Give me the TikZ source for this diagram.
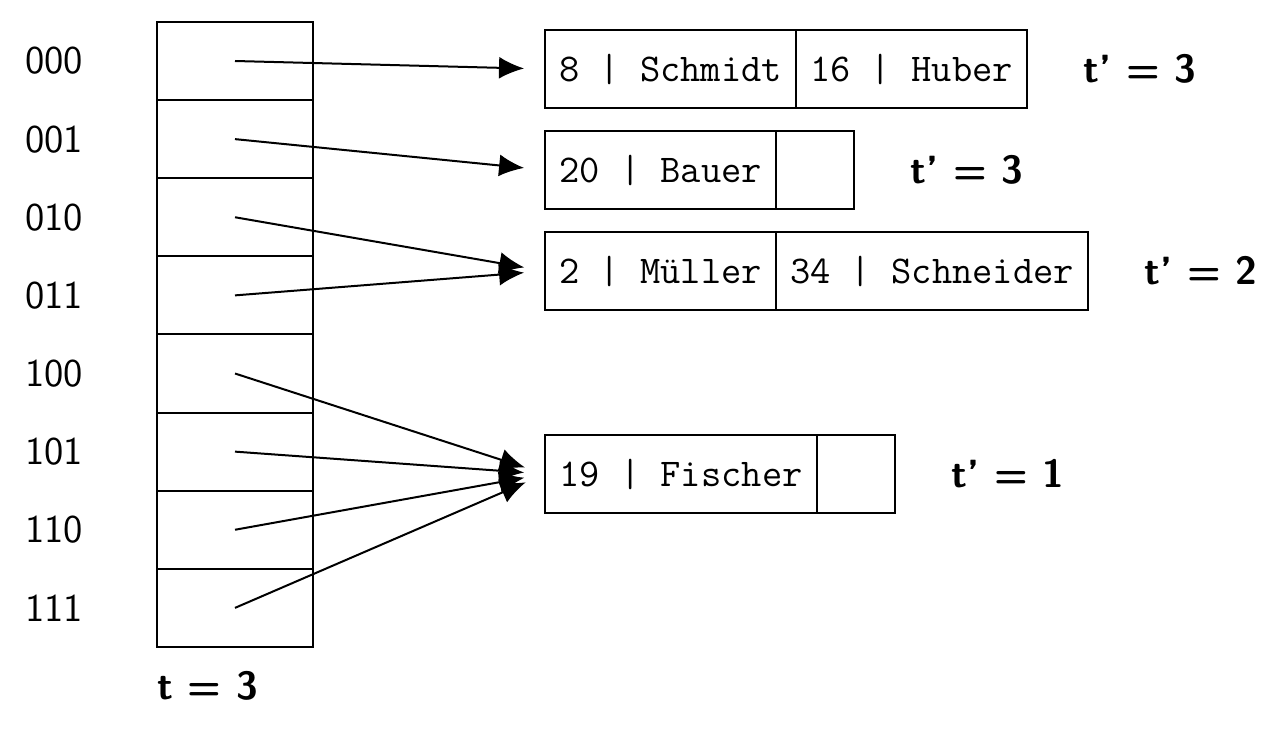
\documentclass[tikz,border=0pt]{standalone}
\usepackage{fontspec}
\usetikzlibrary{arrows.meta}
\tikzset{
  dircell/.style={draw, line width=0.6pt, minimum width={156*0.3pt}, minimum height={78.125*0.3pt}, inner sep=0pt, outer sep=0pt},
  bcell/.style={draw, line width=0.6pt, minimum height={78*0.3pt}, inner sep=0pt, outer sep=0pt, anchor=west, font=\ttfamily\fontsize{11.8}{13}\selectfont},
  idx/.style={font=\sffamily\fontsize{11.8}{13}\selectfont, inner sep=0pt},
  depth/.style={font=\sffamily\bfseries\fontsize{11.8}{14}\selectfont, inner sep=0pt, anchor=west},
  ptr/.style={line width=0.6pt, -{Latex[length=7.5pt,width=6.6pt]}, shorten >={21*0.3pt}}
}
\begin{document}
\begin{tikzpicture}[x=0.3pt,y=-0.3pt]
\useasboundingbox (0,0) rectangle (1284,733);
% directory
\foreach \i/\lab in {0/000,1/001,2/010,3/011,4/100,5/101,6/110,7/111}{
  \node[dircell] (d\i) at (235,{61+78.125*\i}) {};
  \node[idx] (l\i) at (54,{61+78.125*\i}) {\lab};
}
\node[depth] (t) at (157,686) {t = 3};
% buckets
\node[bcell, minimum width={251*0.3pt}] (b1a) at (545,69) {8 | Schmidt};
\node[bcell, minimum width={231*0.3pt}] (b1b) at (b1a.east) {16 | Huber};
\node[depth] (t1) at ([xshift={56*0.3pt}]b1b.east) {t' = 3};

\node[bcell, minimum width={231*0.3pt}] (b2a) at (545,170) {20 | Bauer};
\node[bcell, minimum width={78*0.3pt}] (b2b) at (b2a.east) {};
\node[depth] (t2) at ([xshift={56*0.3pt}]b2b.east) {t' = 3};

\node[bcell, minimum width={231*0.3pt}] (b3a) at (545,271) {2 | Müller};
\node[bcell, minimum width={312*0.3pt}] (b3b) at (b3a.east) {34 | Schneider};
\node[depth] (t3) at ([xshift={56*0.3pt}]b3b.east) {t' = 2};

\node[bcell, minimum width={272*0.3pt}] (b4a) at (545,474) {19 | Fischer};
\node[bcell, minimum width={78*0.3pt}] (b4b) at (b4a.east) {};
\node[depth] (t4) at ([xshift={56*0.3pt}]b4b.east) {t' = 1};
% pointers
\draw[ptr] (d0.center) -- (b1a.west);
\draw[ptr] (d1.center) -- (b2a.west);
\draw[ptr] (d2.center) -- (b3a.west);
\draw[ptr] (d3.center) -- (b3a.west);
\draw[ptr] (d4.center) -- (b4a.west);
\draw[ptr] (d5.center) -- (b4a.west);
\draw[ptr] (d6.center) -- (b4a.west);
\draw[ptr] (d7.center) -- (b4a.west);
\end{tikzpicture}
\end{document}
